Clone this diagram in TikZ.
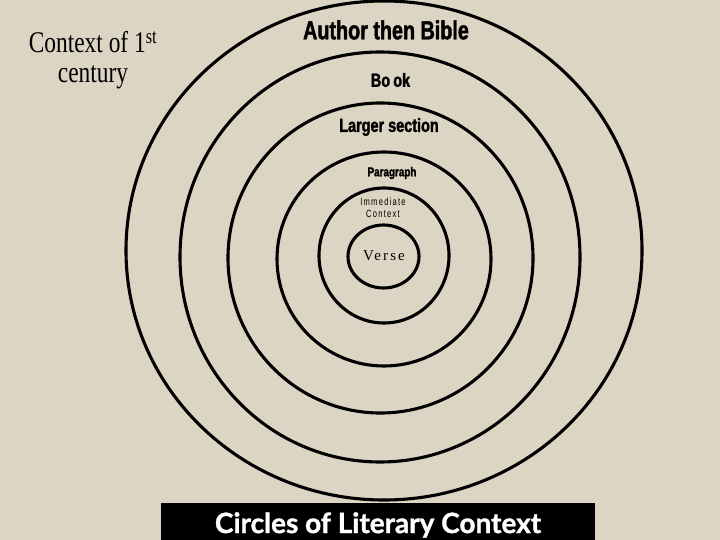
\documentclass[tikz,border=0pt]{standalone}
\usepackage{fontspec}
\setmainfont{Liberation Serif}
\newfontfamily\ctxfont[FakeStretch=0.78]{Liberation Serif}
\newfontfamily\condfont[FakeStretch=0.76,BoldFeatures={FakeBold=1.6}]{Liberation Sans}
\newfontfamily\lightcond[FakeStretch=0.72,LetterSpace=12]{Liberation Sans}
\newfontfamily\versefont[LetterSpace=14]{Liberation Serif}
\newfontfamily\titlefont[BoldFeatures={FakeBold=1.2}]{Lato}
\definecolor{slidebg}{RGB}{221,213,196}
\tikzset{
  ring/.style={draw=black, line width=3.1pt},
  boldlabel/.style={font=\condfont\bfseries, inner sep=0pt, text=black},
}
\begin{document}
\begin{tikzpicture}[x=1pt,y=-1pt]
\fill[slidebg] (0,0) rectangle (720,540);
\useasboundingbox (0,0) rectangle (720,540);
% concentric rings
\draw[ring] (384,250.5) ellipse [x radius=258, y radius=249.5];
\draw[ring] (380,257) ellipse [x radius=200, y radius=205];
\draw[ring] (380.5,258) ellipse [x radius=152.5, y radius=155];
\draw[ring] (384,259) ellipse [x radius=107, y radius=107];
\draw[ring] (384,255.5) ellipse [x radius=65, y radius=67.5];
\draw[ring] (383.5,256.5) ellipse [x radius=35.5, y radius=31.5];
% labels
\node[boldlabel, font=\condfont\bfseries\fontsize{26}{26}\selectfont] (author) at (386,30) {Author then Bible};
\node[boldlabel, font=\condfont\bfseries\fontsize{19}{19}\selectfont] (book) at (390.5,80) {Bo\,ok};
\node[boldlabel, font=\condfont\bfseries\fontsize{19}{19}\selectfont] (larger) at (389,127) {Larger section};
\node[boldlabel, font=\condfont\bfseries\fontsize{13}{13}\selectfont] (para) at (392,173) {Paragraph};
\node[inner sep=0pt, align=center, font=\lightcond\fontsize{10.5}{12}\selectfont] (immed) at (383,208) {Immediate\\Context};
\node[inner sep=0pt, font=\versefont\fontsize{15}{15}\selectfont] (verse) at (384,256) {Verse};
\node[inner sep=0pt, align=center, font=\ctxfont\fontsize{30}{30}\selectfont] (ctx) at (93,60)
  {Context of 1\textsuperscript{st}\\century};
% title bar
\fill[black] (161,503) rectangle (595,540);
\node[inner sep=0pt, text=white, font=\titlefont\bfseries\fontsize{28}{28}\selectfont] (title) at (378,525) {Circles of Literary Context};
\end{tikzpicture}
\end{document}
